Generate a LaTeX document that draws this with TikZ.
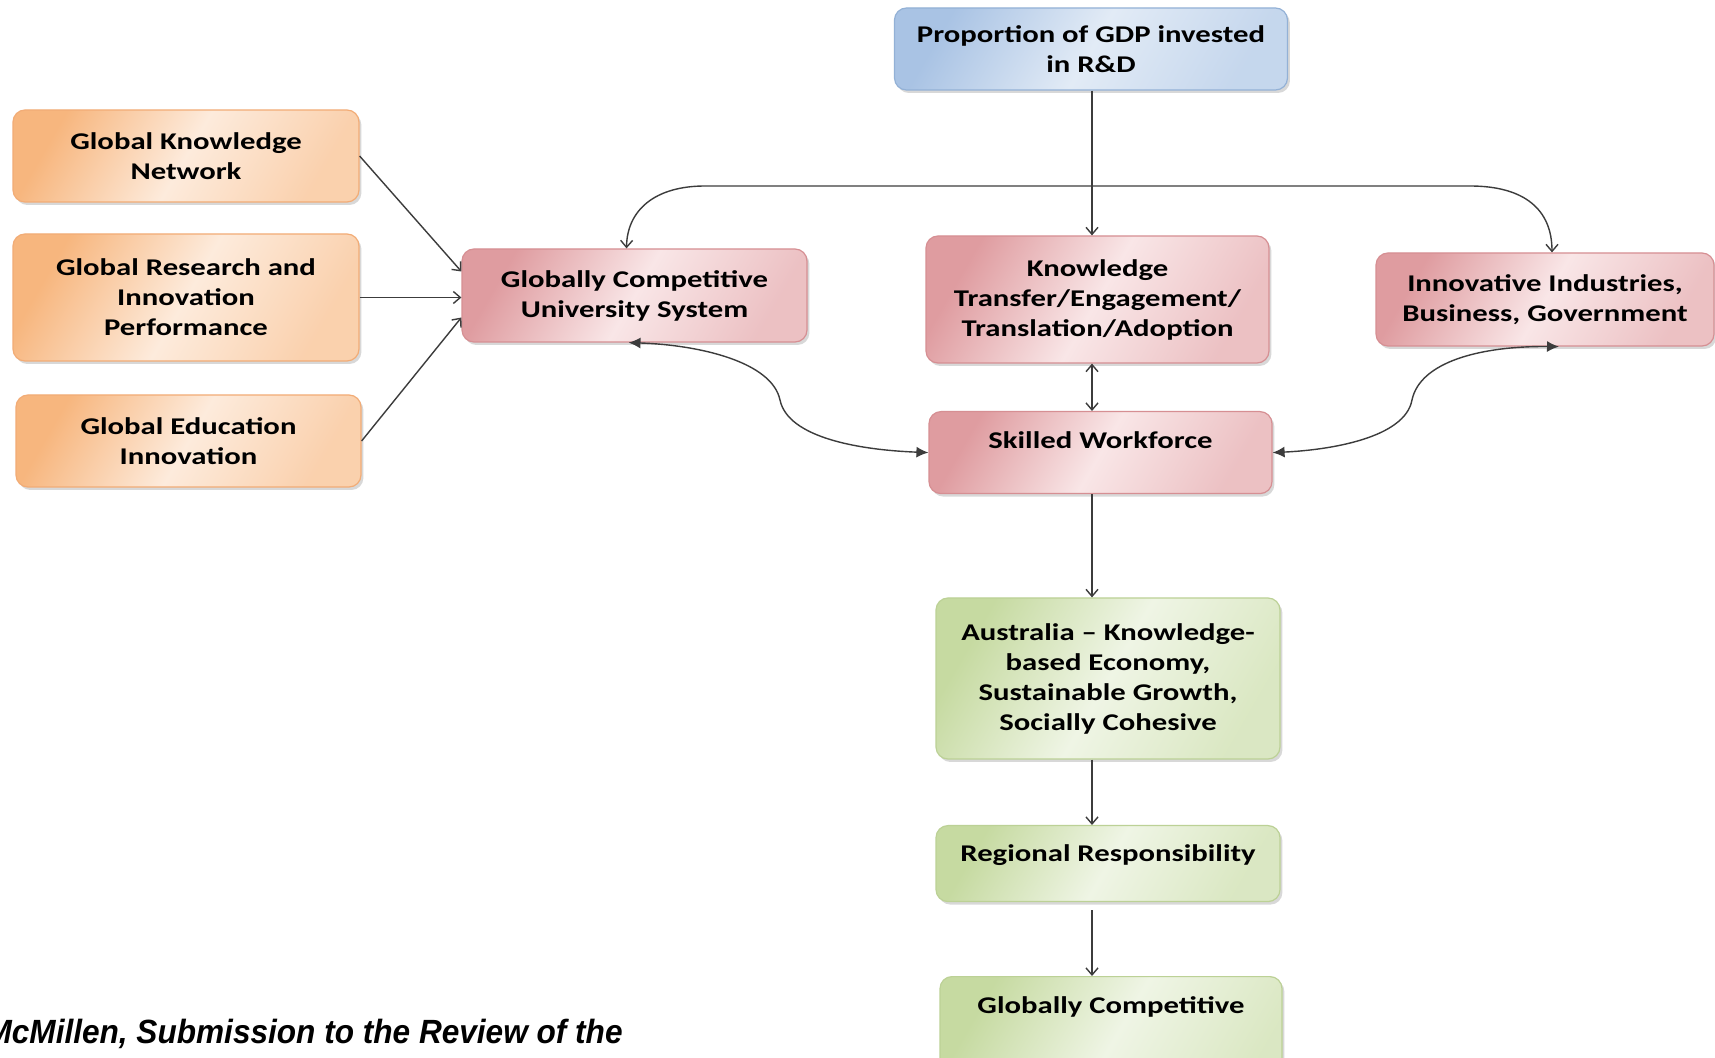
\documentclass[tikz,border=0pt]{standalone}
\usepackage{fontspec}
\newfontfamily\boxfont{Carlito}[FakeStretch=1.28]
\newfontfamily\capfont{Liberation Sans}[FakeStretch=0.94]
\usetikzlibrary{arrows.meta,shadows}
\definecolor{OrangeEdge}{HTML}{F2AC76}
\definecolor{OrangeDark}{HTML}{F7B67E}
\definecolor{OrangeLight}{HTML}{FDEBDC}
\definecolor{RoseEdge}{HTML}{D68F93}
\definecolor{RoseDark}{HTML}{DF9CA0}
\definecolor{RoseLight}{HTML}{F9E6E7}
\definecolor{SkyEdge}{HTML}{93B1D6}
\definecolor{SkyDark}{HTML}{A9C3E4}
\definecolor{SkyLight}{HTML}{E2EBF6}
\definecolor{LeafEdge}{HTML}{BCD196}
\definecolor{LeafDark}{HTML}{C6DAA1}
\definecolor{LeafLight}{HTML}{EFF5E5}
\definecolor{LineGrey}{HTML}{3C3C3C}

\begin{document}
\begin{tikzpicture}[x=0.5pt,y=-0.5pt,
    flowbox/.style={rounded corners=6pt, align=center, line width=0.6pt,
        font=\boxfont\bfseries\fontsize{12}{15}\selectfont,
        drop shadow={opacity=0.3, shadow xshift=1.2pt, shadow yshift=-1.5pt}},
    orangebox/.style={flowbox, draw=OrangeEdge, left color=OrangeDark, right color=OrangeDark!50!OrangeLight, middle color=OrangeLight, shading angle=60},
    rosebox/.style={flowbox, draw=RoseEdge, left color=RoseDark, right color=RoseDark!50!RoseLight, middle color=RoseLight, shading angle=60},
    skybox/.style={flowbox, draw=SkyEdge, left color=SkyDark, right color=SkyDark!50!SkyLight, middle color=SkyLight, shading angle=60},
    leafbox/.style={flowbox, draw=LeafEdge, left color=LeafDark, right color=LeafDark!50!LeafLight, middle color=LeafLight, shading angle=60},
    thinarrow/.style={draw=LineGrey, line width=0.7pt, -{Straight Barb[length=3.5pt,width=6pt]}},
    thinboth/.style={thinarrow, {Straight Barb[length=3.5pt,width=6pt]}-{Straight Barb[length=3.5pt,width=6pt]}},
    thickboth/.style={draw=LineGrey, line width=0.7pt, {Latex[length=6pt,width=5.5pt]}-{Latex[length=6pt,width=5.5pt]}}]
    \path[use as bounding box, fill=white] (0,0) rectangle (1715,1058);

    % top and left inputs
    \node[skybox, minimum width=196.5pt, minimum height=41pt] (gdp) at (1091,49) {Proportion of GDP invested\\in R\&D};
    \node[orangebox, minimum width=173pt, minimum height=46pt] (gkn) at (186,156) {Global Knowledge\\Network};
    \node[orangebox, minimum width=173pt, minimum height=63.5pt] (gri) at (186,297.5) {Global Research and\\Innovation\\Performance};
    \node[orangebox, minimum width=172.5pt, minimum height=46pt] (gei) at (188.5,441) {Global Education\\Innovation};

    % middle row
    \node[rosebox, minimum width=172.5pt, minimum height=46.5pt] (univ) at (634.5,295.5) {Globally Competitive\\University System};
    \node[rosebox, minimum width=171.5pt, minimum height=63.5pt] (kt) at (1097.5,299.5) {Knowledge\\Transfer/Engagement/\\Translation/Adoption};
    \node[rosebox, minimum width=169pt, minimum height=46.5pt] (innov) at (1545,299.5) {Innovative Industries,\\Business, Government};
    \node[rosebox, anchor=north, minimum width=171.5pt, text height=9.5pt, text depth=13.5pt, inner ysep=9pt] (sw) at (1100.5,411) {Skilled Workforce};

    % outcomes
    \node[leafbox, minimum width=172pt, minimum height=80.5pt] (aus) at (1108,678.5) {Australia – Knowledge-\\based Economy,\\Sustainable Growth,\\Socially Cohesive};
    \node[leafbox, anchor=north, minimum width=172pt, text height=9pt, text depth=11pt, inner ysep=9pt] (reg) at (1108,825) {Regional Responsibility};
    \node[leafbox, anchor=north, minimum width=171pt, text height=9pt, text depth=40pt, inner ysep=9.5pt] (gc) at (1111,976) {Globally Competitive};

    \node[anchor=base east, inner sep=0pt, font=\capfont\bfseries\itshape\fontsize{16.8}{19}\selectfont] (credit) at (623,1043) {McMillen, Submission to the Review of the};

    % connectors
    \coordinate (spine) at (1092,0);
    \coordinate (regfoot) at ([yshift=-4pt]reg.south);
    \draw[thinarrow] (gdp.south -| spine) -- (kt.north -| spine);
    \draw[thinboth] (kt.south -| spine) -- (sw.north -| spine);
    \draw[thinarrow] (sw.south -| spine) -- (aus.north -| spine);
    \draw[thinarrow] (aus.south -| spine) -- (reg.north -| spine);
    \draw[thinarrow] (regfoot -| spine) -- (gc.north -| spine);

    \draw[thinarrow] (gkn.east) -- ([yshift=12pt]univ.west);
    \draw[thinarrow] (gri.east) -- (gri.east -| univ.west);
    \draw[thinarrow] (gei.east) -- ([yshift=-11pt]univ.west);

    \draw[thinboth] ([xshift=-4pt]univ.north) .. controls (627,210) and (655,186) .. (705,186) -- (1470,186) .. controls (1525,186) and (1552,210) .. ([xshift=3.5pt]innov.north);

    \coordinate (bendL) at (780,400);
    \coordinate (bendR) at (1412,400);
    \draw[thickboth] ([xshift=-3pt]univ.south) .. controls (700,345) and (772,362) .. (bendL) .. controls (788,438) and (860,450) .. (sw.west);
    \draw[thickboth] ([xshift=7pt]innov.south) .. controls (1480,346) and (1420,362) .. (bendR) .. controls (1405,438) and (1330,450) .. (sw.east);
\end{tikzpicture}
\end{document}
